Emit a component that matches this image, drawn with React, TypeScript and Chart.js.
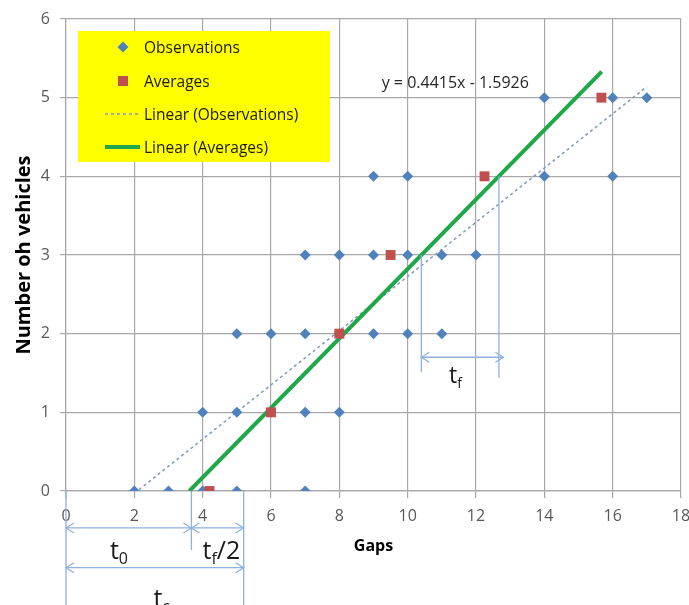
import React, { useEffect, useRef } from "react";
import { Chart, registerables } from "chart.js";

Chart.register(...registerables);

// ---- data ----
const obsX = [2, 3, 4, 5, 7, 4, 5, 6, 7, 8, 5, 6, 7, 8, 9, 10, 11, 7, 8, 9, 10, 11, 12, 9, 10, 14, 16, 14, 16, 17];
const obsY = [0, 0, 0, 0, 0, 1, 1, 1, 1, 1, 2, 2, 2, 2, 2, 2, 2, 3, 3, 3, 3, 3, 3, 4, 4, 4, 4, 5, 5, 5];
const avgX = [4.2, 6, 8, 9.5, 12.25, 15.67];
const avgY = [0, 1, 2, 3, 4, 5];
const trendObsX = [2, 17];
const trendObsY = [-0.03, 5.14];
const trendAvgX = [3.61, 15.68];
const trendAvgY = [0, 5.33];
const xTicks = [0, 2, 4, 6, 8, 10, 12, 14, 16, 18];
const yTicks = [0, 1, 2, 3, 4, 5, 6];
const seriesLabels = ["Observations", "Averages", "Linear (Observations)", "Linear (Averages)"];
const equationText = "y = 0.4415x - 1.5926";
const xTitle = "Gaps";
const yTitle = "Number oh vehicles";

const BLUE = "#4f81bd";
const RED = "#c0504d";
const GREEN = "#1fa84a";
const DOT = "#8198c4";
const ANN = "#8fb1de";
const GRID = "#a8a8a8";
const FONT = "'Open Sans', Lato, sans-serif";

function toPts(xs: number[], ys: number[]) {
  return xs.map((x, i) => ({ x, y: ys[i] }));
}

const overlayPlugin = {
  id: "overlay",
  afterDraw(chart: any) {
    const ctx = chart.ctx as CanvasRenderingContext2D;
    const xs = chart.scales.x;
    const ys = chart.scales.y;
    const X = (v: number) => xs.getPixelForValue(v);
    const Y = (v: number) => ys.getPixelForValue(v);

    // equation label
    ctx.save();
    ctx.fillStyle = "#262626";
    ctx.font = `16px ${FONT}`;
    ctx.textBaseline = "middle";
    ctx.textAlign = "left";
    ctx.fillText(equationText, X(9.24), Y(5.2) + 1.5);
    ctx.restore();

    const line = (x1: number, y1: number, x2: number, y2: number) => {
      ctx.beginPath();
      ctx.moveTo(x1, y1);
      ctx.lineTo(x2, y2);
      ctx.stroke();
    };
    const arrow = (x1: number, x2: number, y: number) => {
      line(x1, y, x2, y);
      const h = 8, w = 5;
      ctx.beginPath();
      ctx.moveTo(x1 + h, y - w);
      ctx.lineTo(x1, y);
      ctx.lineTo(x1 + h, y + w);
      ctx.moveTo(x2 - h, y - w);
      ctx.lineTo(x2, y);
      ctx.lineTo(x2 - h, y + w);
      ctx.stroke();
    };
    ctx.save();
    ctx.strokeStyle = ANN;
    ctx.lineWidth = 1.3;
    // bottom-left construction
    line(X(0), Y(0), X(0), Y(-1.6));
    line(X(3.67), Y(0), X(3.67), Y(-0.75));
    line(X(5.2), Y(0), X(5.2), Y(-1.6));
    arrow(X(0), X(3.67), Y(-0.47));
    arrow(X(3.67), X(5.2), Y(-0.47));
    arrow(X(0), X(5.2), Y(-0.975));
    // right construction
    line(X(10.4), Y(3), X(10.4), Y(1.51));
    line(X(12.67), Y(4), X(12.67), Y(1.44));
    arrow(X(10.4), X(12.8), Y(1.70));
    ctx.restore();

    const subLabel = (main: string, sub: string, tail: string, cx: number, cy: number, size: number) => {
      ctx.save();
      ctx.fillStyle = "#1a1a1a";
      ctx.textBaseline = "alphabetic";
      const big = `${size}px ${FONT}`;
      const small = `${Math.round(size * 0.62)}px ${FONT}`;
      ctx.font = big;
      const w1 = ctx.measureText(main).width;
      const w3 = ctx.measureText(tail).width;
      ctx.font = small;
      const w2 = ctx.measureText(sub).width;
      let x = cx - (w1 + w2 + w3) / 2;
      const base = cy + size * 0.35;
      ctx.font = big;
      ctx.fillText(main, x, base);
      x += w1;
      ctx.font = small;
      ctx.fillText(sub, x, base + size * 0.2);
      x += w2;
      ctx.font = big;
      ctx.fillText(tail, x, base);
      ctx.restore();
    };
    subLabel("t", "0", "", X(1.55), Y(-0.75), 25);
    subLabel("t", "f", "/2", X(4.55), Y(-0.75), 25);
    subLabel("t", "c", "", X(2.8), Y(-1.36), 25);
    subLabel("t", "f", "", X(11.4), Y(1.47), 23);

    // legend box
    ctx.save();
    ctx.fillStyle = "#ffff00";
    ctx.fillRect(78, 31, 252, 131);
    const rows = [47, 81, 114, 147];
    const mx = 123;
    ctx.fillStyle = BLUE;
    ctx.beginPath();
    ctx.moveTo(mx, rows[0] - 5.5);
    ctx.lineTo(mx + 5.5, rows[0]);
    ctx.lineTo(mx, rows[0] + 5.5);
    ctx.lineTo(mx - 5.5, rows[0]);
    ctx.closePath();
    ctx.fill();
    ctx.fillStyle = RED;
    ctx.fillRect(mx - 5, rows[1] - 5, 10, 10);
    ctx.strokeStyle = DOT;
    ctx.lineWidth = 1.5;
    ctx.setLineDash([3, 3]);
    line(105, rows[2], 139, rows[2]);
    ctx.setLineDash([]);
    ctx.strokeStyle = GREEN;
    ctx.lineWidth = 4;
    line(105, rows[3], 140, rows[3]);
    ctx.fillStyle = "#1a1a1a";
    ctx.font = `15.5px ${FONT}`;
    ctx.textBaseline = "middle";
    ctx.textAlign = "left";
    seriesLabels.forEach((t, i) => ctx.fillText(t, 144, rows[i] + 1.5));
    ctx.restore();
  },
};

export default function App() {
  const ref = useRef<HTMLCanvasElement | null>(null);
  useEffect(() => {
    if (!ref.current) return;
    const chart = new Chart(ref.current, {
      type: "scatter",
      data: {
        datasets: [
          {
            label: seriesLabels[1],
            data: toPts(avgX, avgY),
            pointStyle: "rect",
            pointRadius: 7,
            backgroundColor: RED,
            borderWidth: 0,
            order: 0,
          },
          {
            label: seriesLabels[0],
            data: toPts(obsX, obsY),
            pointStyle: "rectRot",
            pointRadius: 5.5,
            backgroundColor: BLUE,
            borderWidth: 0,
            order: 1,
          },
          {
            label: seriesLabels[3],
            data: toPts(trendAvgX, trendAvgY),
            showLine: true,
            pointRadius: 0,
            borderColor: GREEN,
            borderWidth: 4,
            order: 2,
          },
          {
            label: seriesLabels[2],
            data: toPts(trendObsX, trendObsY),
            showLine: true,
            pointRadius: 0,
            borderColor: DOT,
            borderWidth: 1.5,
            borderDash: [3, 3],
            order: 3,
          },
        ],
      },
      options: {
        responsive: false,
        animation: false,
        events: [],
        layout: { padding: { left: 12, top: 19, right: 8, bottom: 48.6 } },
        plugins: { legend: { display: false }, tooltip: { enabled: false } },
        scales: {
          x: {
            type: "linear",
            min: 0,
            max: 18,
            afterBuildTicks: (s: any) => {
              s.ticks = xTicks.map((v) => ({ value: v }));
            },
            afterFit: (s: any) => {
              s.height = 65.4;
              s.paddingLeft = 0;
              s.paddingRight = 0;
            },
            ticks: { color: "#595959", font: { family: FONT, size: 16 }, padding: 9, maxRotation: 0 },
            grid: { color: GRID, lineWidth: 1.2, tickLength: 7 },
            border: { color: GRID, width: 1.2 },
            title: {
              display: true,
              text: xTitle,
              color: "#000",
              font: { family: FONT, size: 16, weight: "bold" },
              padding: 0,
            },
          },
          y: {
            type: "linear",
            min: 0,
            max: 6,
            afterBuildTicks: (s: any) => {
              s.ticks = yTicks.map((v) => ({ value: v }));
            },
            afterFit: (s: any) => {
              s.width = 54;
              s.paddingTop = 0;
              s.paddingBottom = 0;
            },
            ticks: { color: "#595959", font: { family: FONT, size: 16 }, padding: 10 },
            grid: { color: GRID, lineWidth: 1.2, tickLength: 6 },
            border: { color: GRID, width: 1.2 },
            title: {
              display: true,
              text: yTitle,
              color: "#000",
              font: { family: FONT, size: 20, weight: "bold" },
              padding: 0,
            },
          },
        },
      },
      plugins: [overlayPlugin],
    });
    return () => chart.destroy();
  }, []);
  return (
    <div style={{ position: "fixed", left: 0, top: 0, width: 689, height: 605, background: "#fff" }}>
      <canvas ref={ref} width={689} height={605} style={{ width: 689, height: 605 }} />
    </div>
  );
}
